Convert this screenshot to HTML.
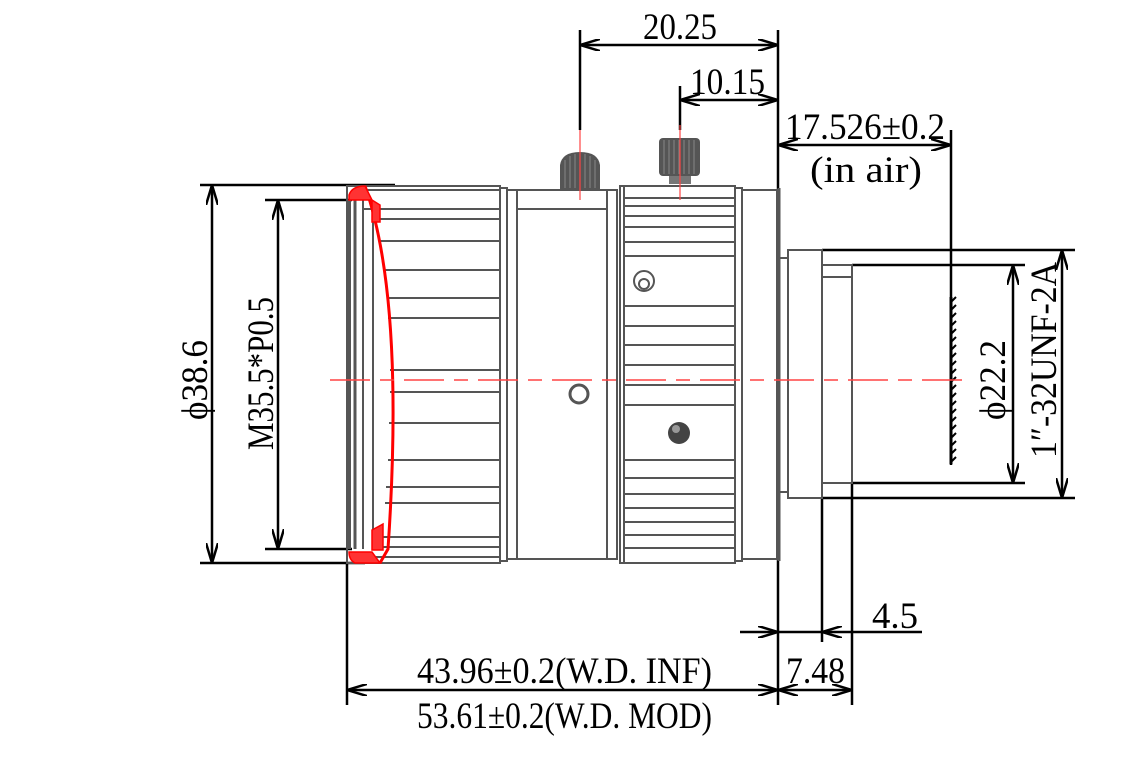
<!DOCTYPE html>
<html><head><meta charset="utf-8"><style>html,body{margin:0;padding:0;background:#fff}svg{display:block}</style></head><body>
<svg width="1145" height="775" viewBox="0 0 1145 775" xmlns="http://www.w3.org/2000/svg">
<defs>
<marker id="a" viewBox="0 0 20 12" refX="20" refY="6" markerWidth="20" markerHeight="12" markerUnits="userSpaceOnUse" orient="auto-start-reverse"><path d="M0,0 L20,6 L0,12" fill="none" stroke="#000" stroke-width="2.5"/></marker>
</defs>
<g fill="none" stroke="#000" stroke-width="2.5">
<line x1="200" y1="185" x2="395" y2="185"/><line x1="200" y1="563" x2="365" y2="563"/>
<line x1="265" y1="200" x2="352" y2="200"/><line x1="265" y1="549" x2="352" y2="549"/>
<line x1="580" y1="30" x2="580" y2="130"/><line x1="680" y1="86" x2="680" y2="130"/>
<line x1="778" y1="30" x2="778" y2="705"/>
<line x1="951" y1="130" x2="951" y2="465"/>
<line x1="347" y1="563" x2="347" y2="705"/>
<line x1="822" y1="498" x2="822" y2="642"/><line x1="852" y1="483" x2="852" y2="705"/>
<line x1="822" y1="250" x2="1075" y2="250"/><line x1="822" y1="498" x2="1075" y2="498"/>
<line x1="852" y1="265" x2="1025" y2="265"/><line x1="852" y1="483" x2="1025" y2="483"/>
<line x1="212" y1="185" x2="212" y2="563" marker-start="url(#a)" marker-end="url(#a)"/>
<line x1="278" y1="200" x2="278" y2="549" marker-start="url(#a)" marker-end="url(#a)"/>
<line x1="580" y1="45" x2="778" y2="45" marker-start="url(#a)" marker-end="url(#a)"/>
<line x1="680" y1="100" x2="778" y2="100" marker-start="url(#a)" marker-end="url(#a)"/>
<line x1="778" y1="145" x2="951" y2="145" marker-start="url(#a)" marker-end="url(#a)"/>
<line x1="1013" y1="265" x2="1013" y2="483" marker-start="url(#a)" marker-end="url(#a)"/>
<line x1="1062" y1="250" x2="1062" y2="498" marker-start="url(#a)" marker-end="url(#a)"/>
<line x1="347" y1="690" x2="778" y2="690" marker-start="url(#a)" marker-end="url(#a)"/>
<line x1="778" y1="690" x2="852" y2="690" marker-start="url(#a)" marker-end="url(#a)"/>
<line x1="740" y1="632" x2="778" y2="632" marker-end="url(#a)"/>
<line x1="922" y1="632" x2="822" y2="632" marker-end="url(#a)"/>
<line x1="778" y1="632" x2="822" y2="632"/>
</g>
<g stroke="#000" stroke-width="2">
<line x1="951" y1="297" x2="951" y2="464" stroke-width="3"/>
<path d="M951,302 l5,-5 M951,310 l5,-5 M951,318 l5,-5 M951,326 l5,-5 M951,334 l5,-5 M951,342 l5,-5 M951,350 l5,-5 M951,358 l5,-5 M951,366 l5,-5 M951,374 l5,-5 M951,382 l5,-5 M951,390 l5,-5 M951,398 l5,-5 M951,406 l5,-5 M951,414 l5,-5 M951,422 l5,-5 M951,430 l5,-5 M951,438 l5,-5 M951,446 l5,-5 M951,454 l5,-5 M951,462 l5,-5"/>
</g>
<g fill="none" stroke="#555" stroke-width="2">
<rect x="347" y="186" width="153" height="377"/>
<path d="M363,190 H500 M363,209 H500 M375,219 H500 M380,241 H500 M385,270 H500 M387,298 H500 M388,318 H500 M390,370 H500 M390,392 H500 M389,423 H500 M388,460 H500 M386,487 H500 M385,503 H500 M380,537 H500 M375,547 H500 M363,557 H500"/>
<line x1="349" y1="200" x2="349" y2="549" stroke-width="4"/><line x1="355" y1="200" x2="355" y2="549" stroke-width="3"/><line x1="363" y1="200" x2="363" y2="549"/><line x1="373" y1="205" x2="373" y2="545"/>
<rect x="500" y="188" width="7" height="373"/>
<rect x="507" y="190" width="10" height="369"/>
<rect x="517" y="190" width="90" height="369"/>
<line x1="517" y1="209" x2="607" y2="209"/>
<rect x="607" y="190" width="10" height="369"/>
<rect x="620" y="186" width="115" height="377"/>
<line x1="624" y1="186" x2="624" y2="563"/>
<path d="M624,198 H735 M624,206 H735 M624,216 H735 M624,227 H735 M624,242 H735 M624,256 H735 M624,306 H735 M624,326 H735 M624,345 H735 M624,365 H735 M624,385 H735 M624,405 H735 M624,460 H735 M624,478 H735 M624,494 H735 M624,508 H735 M624,522 H735 M624,535 H735 M624,548 H735"/>
<rect x="735" y="188" width="7" height="373"/>
<rect x="742" y="190" width="35" height="369"/>
<line x1="779" y1="188" x2="779" y2="561" stroke-width="3"/>
<path d="M779,258 H788 M779,492 H788"/>
<rect x="788" y="250" width="34" height="248"/>
<rect x="822" y="265" width="30" height="218"/>
<line x1="822" y1="277" x2="852" y2="277"/>
<circle cx="644" cy="281" r="10"/><circle cx="644" cy="284" r="5"/>
<circle cx="579" cy="394" r="9" stroke-width="3"/>
</g>
<circle cx="679" cy="433" r="11" fill="#444"/><circle cx="676" cy="429" r="4" fill="#999"/>
<path d="M560,190 V165 Q562,152 580,152 Q598,152 600,165 V190 Z" fill="#555"/>
<rect x="659" y="138" width="41" height="38" rx="4" fill="#555"/>
<rect x="669" y="176" width="22" height="8" fill="#777"/>
<g stroke="#888" stroke-width="1"><path d="M565,160V188 M570,156V188 M575,154V188 M580,154V188 M585,154V188 M590,156V188 M595,160V188 M664,140V174 M669,140V174 M674,140V174 M679,140V174 M684,140V174 M689,140V174 M694,140V174"/></g>
<path d="M365,186 Q405,300 388,549 L380,563" fill="none" stroke="#f00" stroke-width="3"/>
<path d="M349,195 Q352,186 365,186 L372,200 L349,200 Z M349,552 L372,552 L380,563 L355,563 Q349,560 349,552 Z M372,200 L380,205 L380,222 L372,222 Z M372,530 L383,524 L383,550 L372,550 Z" fill="#f33" stroke="#f00" stroke-width="1.5"/>
<line x1="330" y1="380" x2="965" y2="380" stroke="#f44" stroke-width="1.5" stroke-dasharray="40,10,14,10"/>
<line x1="580" y1="130" x2="580" y2="200" stroke="#f44" stroke-width="1.2"/>
<line x1="680" y1="125" x2="680" y2="200" stroke="#f44" stroke-width="1.2"/>
<g font-family="Liberation Serif, serif" font-size="37" fill="#000">
<text x="643" y="39" textLength="74" lengthAdjust="spacingAndGlyphs">20.25</text>
<text x="690" y="94" textLength="75" lengthAdjust="spacingAndGlyphs">10.15</text>
<text x="785" y="139" textLength="160" lengthAdjust="spacingAndGlyphs">17.526±0.2</text>
<text x="810" y="182" textLength="112" lengthAdjust="spacingAndGlyphs">(in air)</text>
<text x="417" y="683" textLength="295" lengthAdjust="spacingAndGlyphs">43.96±0.2(W.D. INF)</text>
<text x="417" y="728" textLength="295" lengthAdjust="spacingAndGlyphs">53.61±0.2(W.D. MOD)</text>
<text x="786" y="683" textLength="59" lengthAdjust="spacingAndGlyphs">7.48</text>
<text x="872" y="628" textLength="46" lengthAdjust="spacingAndGlyphs">4.5</text>
<text transform="translate(207,420) rotate(-90)" textLength="80" lengthAdjust="spacingAndGlyphs">ϕ38.6</text>
<text transform="translate(273,450) rotate(-90)" textLength="153" lengthAdjust="spacingAndGlyphs">M35.5*P0.5</text>
<text transform="translate(1005,420) rotate(-90)" textLength="80" lengthAdjust="spacingAndGlyphs">ϕ22.2</text>
<text transform="translate(1056,458) rotate(-90)" textLength="196" lengthAdjust="spacingAndGlyphs">1″-32UNF-2A</text>
</g>
</svg>
</body></html>
